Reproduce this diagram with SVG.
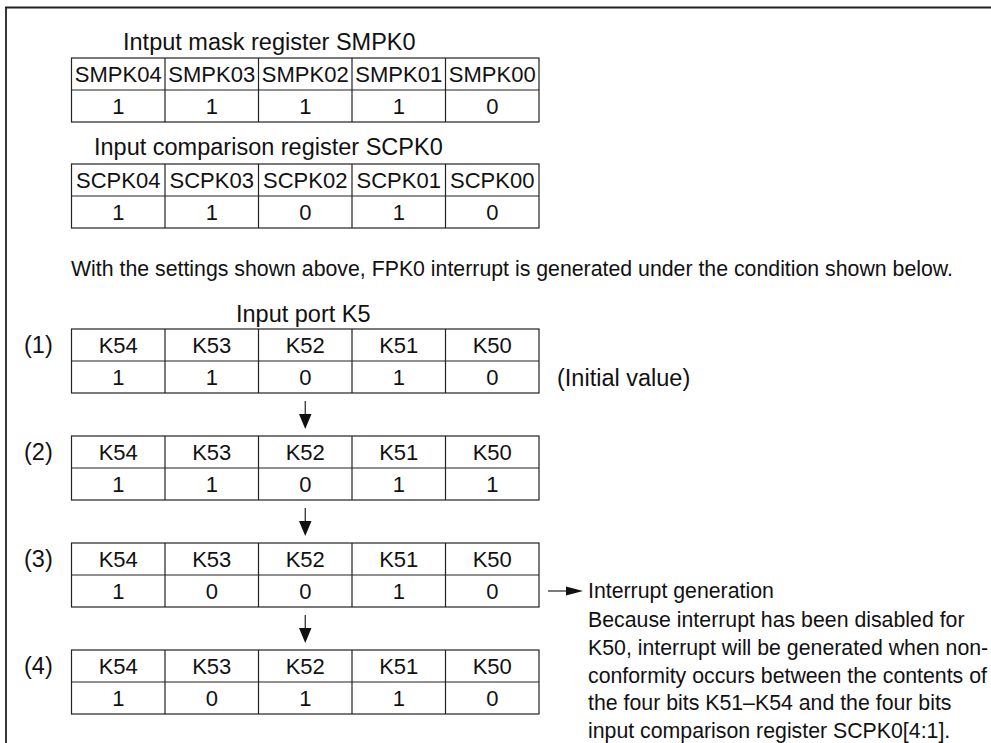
<svg xmlns="http://www.w3.org/2000/svg" width="991" height="743" viewBox="0 0 991 743">
<style>
text{font-family:"Liberation Sans",Arial,sans-serif;fill:#111}
.t{font-size:23.5px}
.c{font-size:22px;text-anchor:middle}
.p{font-size:21.3px}
.g{fill:none;stroke:#222;stroke-width:1.2}
.f{fill:none;stroke:#222;stroke-width:1.8}
</style>
<defs>
<g id="grid">
<rect class="g" x="71.5" y="0" width="467.5" height="64"/>
<line class="g" x1="71.5" y1="32" x2="539" y2="32"/>
<line class="g" x1="165" y1="0" x2="165" y2="64"/>
<line class="g" x1="258.5" y1="0" x2="258.5" y2="64"/>
<line class="g" x1="352" y1="0" x2="352" y2="64"/>
<line class="g" x1="445.5" y1="0" x2="445.5" y2="64"/>
</g>
<g id="kh">
<text class="c" x="118.25" y="24">K54</text>
<text class="c" x="211.75" y="24">K53</text>
<text class="c" x="305.25" y="24">K52</text>
<text class="c" x="398.75" y="24">K51</text>
<text class="c" x="492.25" y="24">K50</text>
</g>
</defs>
<g id="frame">
<line class="f" x1="5" y1="7.5" x2="991" y2="7.5"/>
<line class="f" x1="6" y1="7" x2="6" y2="743"/>
</g>
<g id="smpk0">
<text class="t" x="123" y="50">Intput mask register SMPK0</text>
<use href="#grid" y="58"/>
<text class="c" x="118.25" y="82">SMPK04</text>
<text class="c" x="211.75" y="82">SMPK03</text>
<text class="c" x="305.25" y="82">SMPK02</text>
<text class="c" x="398.75" y="82">SMPK01</text>
<text class="c" x="492.25" y="82">SMPK00</text>
<text class="c" x="118.25" y="114">1</text>
<text class="c" x="211.75" y="114">1</text>
<text class="c" x="305.25" y="114">1</text>
<text class="c" x="398.75" y="114">1</text>
<text class="c" x="492.25" y="114">0</text>
</g>
<g id="scpk0">
<text class="t" x="94" y="155">Input comparison register SCPK0</text>
<use href="#grid" y="164"/>
<text class="c" x="118.25" y="188">SCPK04</text>
<text class="c" x="211.75" y="188">SCPK03</text>
<text class="c" x="305.25" y="188">SCPK02</text>
<text class="c" x="398.75" y="188">SCPK01</text>
<text class="c" x="492.25" y="188">SCPK00</text>
<text class="c" x="118.25" y="220">1</text>
<text class="c" x="211.75" y="220">1</text>
<text class="c" x="305.25" y="220">0</text>
<text class="c" x="398.75" y="220">1</text>
<text class="c" x="492.25" y="220">0</text>
</g>
<g id="note">
<text class="p" x="71" y="276">With the settings shown above, FPK0 interrupt is generated under the condition shown below.</text>
</g>
<g id="port1">
<text class="t" x="236" y="322">Input port K5</text>
<text class="t" x="24" y="353">(1)</text>
<use href="#grid" y="329"/>
<use href="#kh" y="329"/>
<text class="c" x="118.25" y="385">1</text>
<text class="c" x="211.75" y="385">1</text>
<text class="c" x="305.25" y="385">0</text>
<text class="c" x="398.75" y="385">1</text>
<text class="c" x="492.25" y="385">0</text>
<text class="t" x="557" y="385.5">(Initial value)</text>
</g>
<g id="port2">
<text class="t" x="24" y="460">(2)</text>
<use href="#grid" y="436"/>
<use href="#kh" y="436"/>
<text class="c" x="118.25" y="492">1</text>
<text class="c" x="211.75" y="492">1</text>
<text class="c" x="305.25" y="492">0</text>
<text class="c" x="398.75" y="492">1</text>
<text class="c" x="492.25" y="492">1</text>
</g>
<g id="port3">
<text class="t" x="24" y="567">(3)</text>
<use href="#grid" y="543"/>
<use href="#kh" y="543"/>
<text class="c" x="118.25" y="599">1</text>
<text class="c" x="211.75" y="599">0</text>
<text class="c" x="305.25" y="599">0</text>
<text class="c" x="398.75" y="599">1</text>
<text class="c" x="492.25" y="599">0</text>
</g>
<g id="port4">
<text class="t" x="24" y="674">(4)</text>
<use href="#grid" y="650"/>
<use href="#kh" y="650"/>
<text class="c" x="118.25" y="706">1</text>
<text class="c" x="211.75" y="706">0</text>
<text class="c" x="305.25" y="706">1</text>
<text class="c" x="398.75" y="706">1</text>
<text class="c" x="492.25" y="706">0</text>
</g>
<g id="interrupt">
<text class="p" x="588" y="598">Interrupt generation</text>
<text class="p" x="588" y="627">Because interrupt has been disabled for</text>
<text class="p" x="588" y="654.75">K50, interrupt will be generated when non-</text>
<text class="p" x="588" y="682.5">conformity occurs between the contents of</text>
<text class="p" x="588" y="710.25">the four bits K51–K54 and the four bits</text>
<text class="p" x="588" y="738">input comparison register SCPK0[4:1].</text>
</g>
<g id="connectors">
<line class="g" x1="305.25" y1="401" x2="305.25" y2="416"/>
<polygon points="299,414 311.5,414 305.25,429" fill="#111"/>
<line class="g" x1="305.25" y1="508" x2="305.25" y2="523"/>
<polygon points="299,521 311.5,521 305.25,536" fill="#111"/>
<line class="g" x1="305.25" y1="615" x2="305.25" y2="630"/>
<polygon points="299,628 311.5,628 305.25,643" fill="#111"/>
<line class="g" x1="548" y1="591" x2="568" y2="591"/>
<polygon points="566,586.5 566,595.5 583,591" fill="#111"/>
</g>
</svg>
